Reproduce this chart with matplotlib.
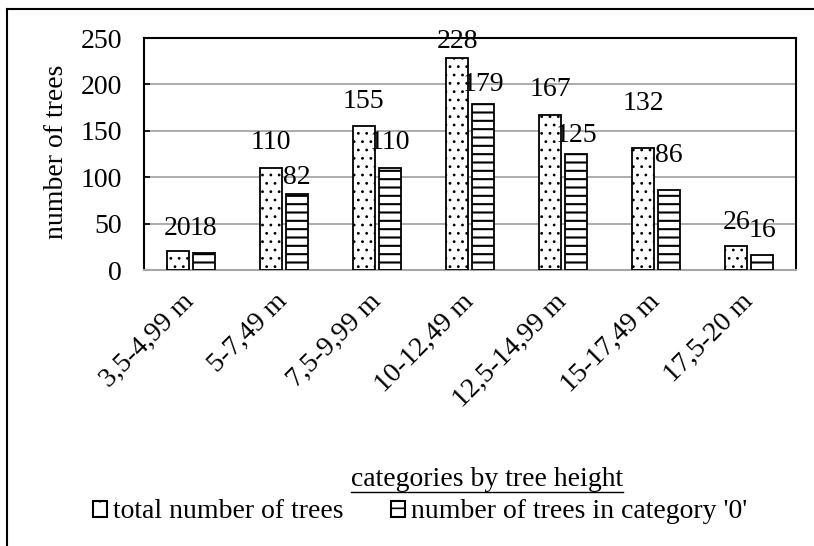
import numpy as np
import matplotlib
matplotlib.use('Agg')
import matplotlib.pyplot as plt
from matplotlib.patches import Patch
from matplotlib.lines import Line2D

# data
categories = ['3,5-4,99 m', '5-7,49 m', '7,5-9,99 m', '10-12,49 m',
              '12,5-14,99 m', '15-17,49 m', '17,5-20 m']
total_trees = [20, 110, 155, 228, 167, 132, 26]
trees_cat0 = [18, 82, 110, 179, 125, 86, 16]
series_names = ['total number of trees', "number of trees in category '0'"]
y_ticks = [0, 50, 100, 150, 200, 250]
# label heights above bar tops (pixels), as placed in the original
total_label_off = [23, 25, 25, 17, 26, 44, 23]
cat0_label_off = [25, 16, 25, 19, 19, 35, 25]

plt.rcParams['font.family'] = ['Liberation Serif', 'DejaVu Serif']
FS = 20
W, H = 814, 546
fig = plt.figure(figsize=(W / 100, H / 100), dpi=100)
ax = fig.add_axes([144 / W, 1 - 270 / H, (796 - 144) / W, (270 - 38) / H])


def hatch_lw(artists, lw):
    for a in artists:
        if hasattr(a, 'set_hatch_linewidth'):
            a.set_hatch_linewidth(lw)


x = np.arange(len(categories))
bw = 0.236
gap = 0.043
plt.rcParams['hatch.linewidth'] = 0.8
b1 = ax.bar(x - (bw + gap) / 2, total_trees, bw, color='white', edgecolor='black',
            linewidth=1.3, hatch='..', zorder=3)
hatch_lw(b1, 0.8)
plt.rcParams['hatch.linewidth'] = 1.5
b2 = ax.bar(x + (bw + gap) / 2, trees_cat0, bw, color='white', edgecolor='black',
            linewidth=1.3, hatch='--', zorder=3)
hatch_lw(b2, 1.5)

px = 0.72  # points per pixel
for i in range(len(x)):
    ax.annotate(str(total_trees[i]), (x[i] - (bw + gap) / 2, total_trees[i]),
                xytext=(0, total_label_off[i] * px), textcoords='offset points',
                ha='center', va='center', fontsize=FS, zorder=5, annotation_clip=False)
    ax.annotate(str(trees_cat0[i]), (x[i] + (bw + gap) / 2, trees_cat0[i]),
                xytext=(0, cat0_label_off[i] * px), textcoords='offset points',
                ha='center', va='center', fontsize=FS, zorder=5, annotation_clip=False)

ax.set_xlim(-0.5, len(categories) - 0.5)
ax.set_ylim(0, 250)
ax.set_yticks(y_ticks)
ax.set_yticklabels([str(t) for t in y_ticks], fontsize=FS)
ax.tick_params(axis='y', direction='in', length=4, width=1.2, pad=16)
ax.yaxis.grid(True, color='#a6a6a6', linewidth=1.3, zorder=0)
ax.set_axisbelow(True)

ax.set_xticks(x)
ax.set_xticklabels(categories, fontsize=FS, rotation=45, ha='right',
                   va='center', rotation_mode='anchor')
ax.tick_params(axis='x', length=0, pad=20)

for s in ['left', 'top', 'right']:
    ax.spines[s].set_color('black')
    ax.spines[s].set_linewidth(1.5)
ax.spines['bottom'].set_color('#a6a6a6')
ax.spines['bottom'].set_linewidth(1.5)

fig.text(57 / W, 1 - 152 / H, 'number of trees', rotation=90, ha='center',
         va='center', fontsize=FS)

# underlined axis title
xt = fig.text(487 / W, 1 - 480 / H, 'categories by tree height', ha='center',
              va='center', fontsize=FS)
fig.canvas.draw()
bb = xt.get_window_extent(fig.canvas.get_renderer())
fig.add_artist(Line2D([bb.x0 / W, bb.x1 / W], [1 - 492 / H, 1 - 492 / H],
                      color='black', linewidth=1.0))

plt.rcParams['hatch.linewidth'] = 1.2
handles = [Patch(facecolor='white', edgecolor='black', hatch='.', linewidth=1.5),
           Patch(facecolor='white', edgecolor='black', hatch='-', linewidth=1.5)]
fig.legend(handles, series_names, loc='center left', ncol=2,
           bbox_to_anchor=(93 / W, 1 - 512 / H), frameon=False, fontsize=FS,
           handlelength=0.5, handleheight=0.5, handletextpad=0.22,
           columnspacing=1.7, borderpad=0, borderaxespad=0)

# outer chart border (left and top edges visible)
fig.add_artist(Line2D([7 / W, 7 / W], [0, 1 - 9 / H], color='black', linewidth=1.5))
fig.add_artist(Line2D([7 / W, 1], [1 - 9 / H, 1 - 9 / H], color='black', linewidth=1.5))

fig.savefig('out.png', dpi=100)
